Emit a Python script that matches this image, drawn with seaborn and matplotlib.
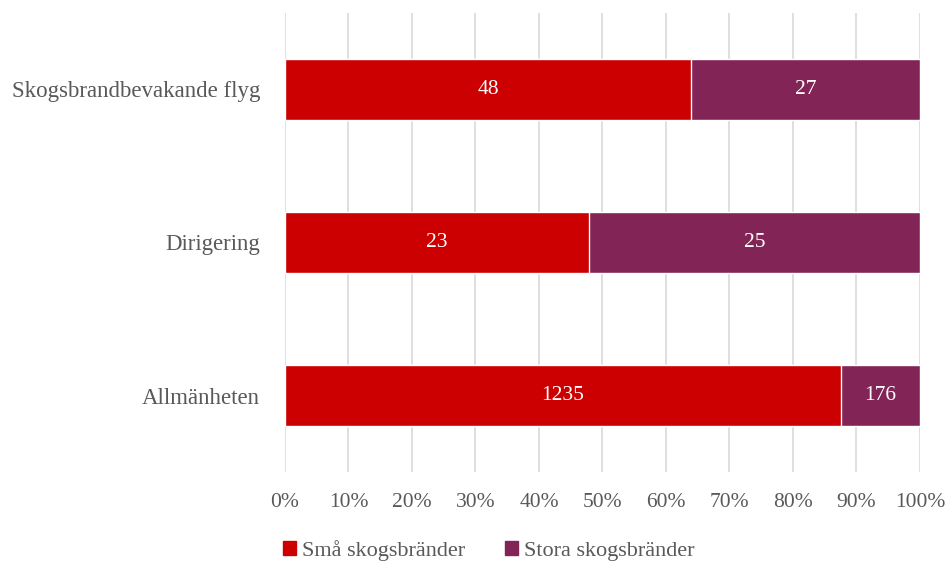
import numpy as np
import pandas as pd
import seaborn as sns
import matplotlib.pyplot as plt
from matplotlib.patches import Patch

categories = ["Skogsbrandbevakande flyg", "Dirigering", "Allmänheten"]
small_fires = [48, 23, 1235]
large_fires = [27, 25, 176]
series_names = ["Små skogsbränder", "Stora skogsbränder"]
ticks = [0, 10, 20, 30, 40, 50, 60, 70, 80, 90, 100]

red = "#CC0000"
purple = "#832457"
grey = "#595959"

sns.set_style("white")
plt.rcParams["font.family"] = ["Liberation Serif", "DejaVu Serif"]

small = np.array(small_fires, dtype=float)
large = np.array(large_fires, dtype=float)
total = small + large
df = pd.DataFrame({
    "category": categories,
    "small_pct": small / total * 100,
    "total_pct": total / total * 100,
})

fig = plt.figure(figsize=(9.49, 5.63), dpi=100)
ax = fig.add_axes([0.3003, 0.1616, 0.6691, 0.8154])

# full bar in purple, red share drawn on top
sns.barplot(data=df, y="category", x="total_pct", color=purple, width=0.4,
            saturation=1, orient="h", ax=ax, zorder=3)
sns.barplot(data=df, y="category", x="small_pct", color=red, width=0.4,
            saturation=1, orient="h", ax=ax, zorder=4)

for i in range(len(categories)):
    sp = df["small_pct"][i]
    ax.text(sp / 2, i, str(small_fires[i]), ha="center", va="center",
            color="white", fontsize=15.5, zorder=5)
    ax.text(sp + (100 - sp) / 2, i, str(large_fires[i]), ha="center", va="center",
            color="white", fontsize=15.5, zorder=5)

ax.set_xlim(0, 100)
ax.set_ylim(2.5, -0.5)
ax.set_xticks(ticks)
ax.set_xticklabels([f"{t}%" for t in ticks])
ax.set_xlabel("")
ax.set_ylabel("")
ax.xaxis.grid(True, color="#D9D9D9", linewidth=1.2, zorder=0)
ax.set_axisbelow(True)
for s in ax.spines.values():
    s.set_visible(False)
ax.tick_params(axis="x", colors="#D9D9D9", length=5, width=1.2, labelcolor=grey,
               labelsize=15.5, pad=10)
ax.tick_params(axis="y", length=0, labelcolor=grey, labelsize=16.5, pad=18)

handles = [Patch(color=red, label=series_names[0]),
           Patch(color=purple, label=series_names[1])]
fig.legend(handles=handles, loc="center", bbox_to_anchor=(0.515, 0.022),
           ncol=2, frameon=False, fontsize=16, handlelength=0.6, handleheight=0.6,
           handletextpad=0.25, columnspacing=1.8, labelcolor=grey)

fig.savefig("out.png", dpi=100)
